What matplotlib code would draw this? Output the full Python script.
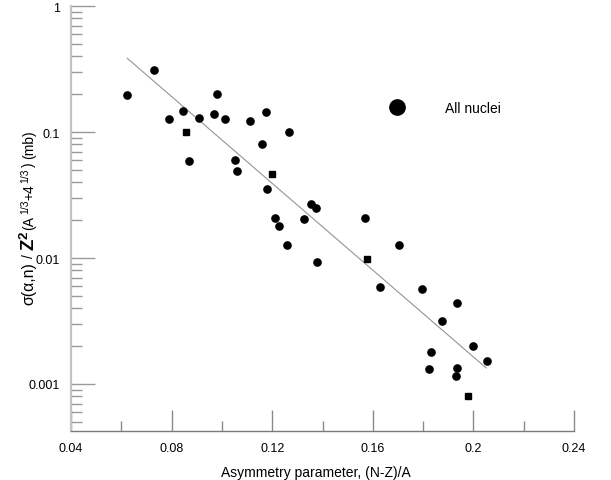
import matplotlib
matplotlib.use("Agg")
import matplotlib.pyplot as plt
from matplotlib.lines import Line2D
from matplotlib.transforms import IdentityTransform
from matplotlib.ticker import FixedLocator, LogLocator, NullFormatter

plt.rcParams['font.family'] = ['Liberation Sans', 'DejaVu Sans']

# Asymmetry parameter (N-Z)/A and reduced (alpha,n) cross section
asym = [0.0624, 0.0729, 0.0790, 0.0845, 0.0868, 0.0908, 0.0967, 0.0979,
        0.1013, 0.1051, 0.1061, 0.1111, 0.1161, 0.1175, 0.1181, 0.1265,
        0.1213, 0.1226, 0.1259, 0.1326, 0.1356, 0.1373, 0.1377, 0.1569,
        0.1629, 0.1704, 0.1795, 0.1876, 0.1933, 0.1998, 0.2055, 0.1833,
        0.1822, 0.1934, 0.1931]
sigma_red = [0.198, 0.310, 0.126, 0.1476, 0.0592, 0.129, 0.138, 0.2003,
             0.126, 0.0603, 0.0490, 0.123, 0.080, 0.1433, 0.0353, 0.100,
             0.0208, 0.01795, 0.01276, 0.0203, 0.0267, 0.0249, 0.00924, 0.0208,
             0.00594, 0.01268, 0.00571, 0.00316, 0.00437, 0.00199, 0.00153, 0.00180,
             0.00131, 0.00134, 0.00116]

# points drawn with square symbols
asym_sq = [0.0856, 0.1198, 0.1577, 0.1977]
sigma_sq = [0.0995, 0.046, 0.00977, 0.000803]

# exponential fit through the data (end points of the drawn line)
fit_x = [0.0624, 0.2051]
fit_y = [0.384, 0.00134]

x_ticks = [0.04, 0.08, 0.12, 0.16, 0.2, 0.24]
x_tick_labels = ['0.04', '0.08', '0.12', '0.16', '0.2', '0.24']
y_ticks = [0.001, 0.01, 0.1, 1]
y_tick_labels = ['0.001', '0.01', '0.1', '1']

W, H = 611, 481
fig = plt.figure(figsize=(W / 100, H / 100), dpi=100)
ax = fig.add_axes([71 / W, 49 / H, 503 / W, 425 / H])

ax.plot(fit_x, fit_y, color='#959595', lw=0.8, zorder=2)
ax.plot(asym, sigma_red, ls='', marker='o', ms=5.2, color='black', zorder=3)
ax.plot(asym_sq, sigma_sq, ls='', marker='s', ms=4.8, color='black', zorder=3)

ax.set_yscale('log')
ax.set_xlim(0.04, 0.24)
ax.set_ylim(10 ** (-425 / 126), 1)

ax.xaxis.set_major_locator(FixedLocator(x_ticks))
ax.set_xticklabels(x_tick_labels)
ax.xaxis.set_minor_locator(FixedLocator([0.06, 0.10, 0.14, 0.18, 0.22]))
ax.yaxis.set_major_locator(FixedLocator(y_ticks))
ax.set_yticklabels(y_tick_labels)
ax.yaxis.set_minor_locator(LogLocator(base=10, subs=[0.2, 0.3, 0.4, 0.5, 0.6, 0.7, 0.8, 0.9]))
ax.yaxis.set_minor_formatter(NullFormatter())

for s in ('top', 'right'):
    ax.spines[s].set_visible(False)
ax.spines['left'].set_color('#c4c4c4')
ax.spines['left'].set_linewidth(1.6)
ax.spines['bottom'].set_color('#7a7a7a')
ax.spines['bottom'].set_linewidth(1.0)

ax.tick_params(axis='x', which='major', direction='in', length=15, width=1.0,
               color='#8a8a8a', labelsize=9, pad=8)
ax.tick_params(axis='x', which='minor', direction='in', length=7, width=1.0,
               color='#8a8a8a')
ax.tick_params(axis='y', which='major', direction='in', length=17, width=1.0,
               color='#9a9a9a', labelsize=9, pad=8)
ax.tick_params(axis='y', which='minor', direction='in', length=8, width=1.0,
               color='#9a9a9a')

ax.set_xlabel('Asymmetry parameter, (N-Z)/A', fontsize=10)
ax.xaxis.set_label_coords((316 - 71) / 503, -(466 - 432) / 425)

key = Line2D([], [], ls='', marker='o', ms=11, color='black')
ax.legend(handles=[key], labels=['All nuclei'], loc='center left',
          bbox_to_anchor=((390 - 71) / 503, (432 - 109) / 425),
          frameon=False, fontsize=10, borderpad=0, borderaxespad=0,
          handlelength=1.0, handletextpad=2.95)

# vertical axis title built from runs of different size, read bottom to top
# (text, font size, weight, shift above baseline in px, gap before in px)
title_runs = [
    ('σ(α,n)', 11.5, 'light', 0, 0),
    ('/', 10, 'normal', 0, 4),
    ('Z', 13.5, 'bold', 0, 4),
    ('2', 9.5, 'bold', 5, 0),
    ('(A', 10, 'normal', 0, 1),
    ('1/3', 7.5, 'normal', 5, 2),
    ('+4', 10, 'normal', 0, 0),
    ('1/3', 7.5, 'normal', 5, 1),
    (')', 10, 'normal', 0, 2),
    ('(mb)', 10, 'normal', 0, 3),
]
renderer = fig.canvas.get_renderer()
baseline_x = 33
y_pos = H - 305
for txt, size, weight, shift, gap in title_runs:
    y_pos += gap
    t = fig.text(baseline_x - shift, y_pos, txt, transform=IdentityTransform(),
                 rotation=90, rotation_mode='anchor', ha='left', va='baseline',
                 fontsize=size, fontweight=weight, color='black')
    y_pos = t.get_window_extent(renderer).y1

fig.savefig('out.png', dpi=100)
